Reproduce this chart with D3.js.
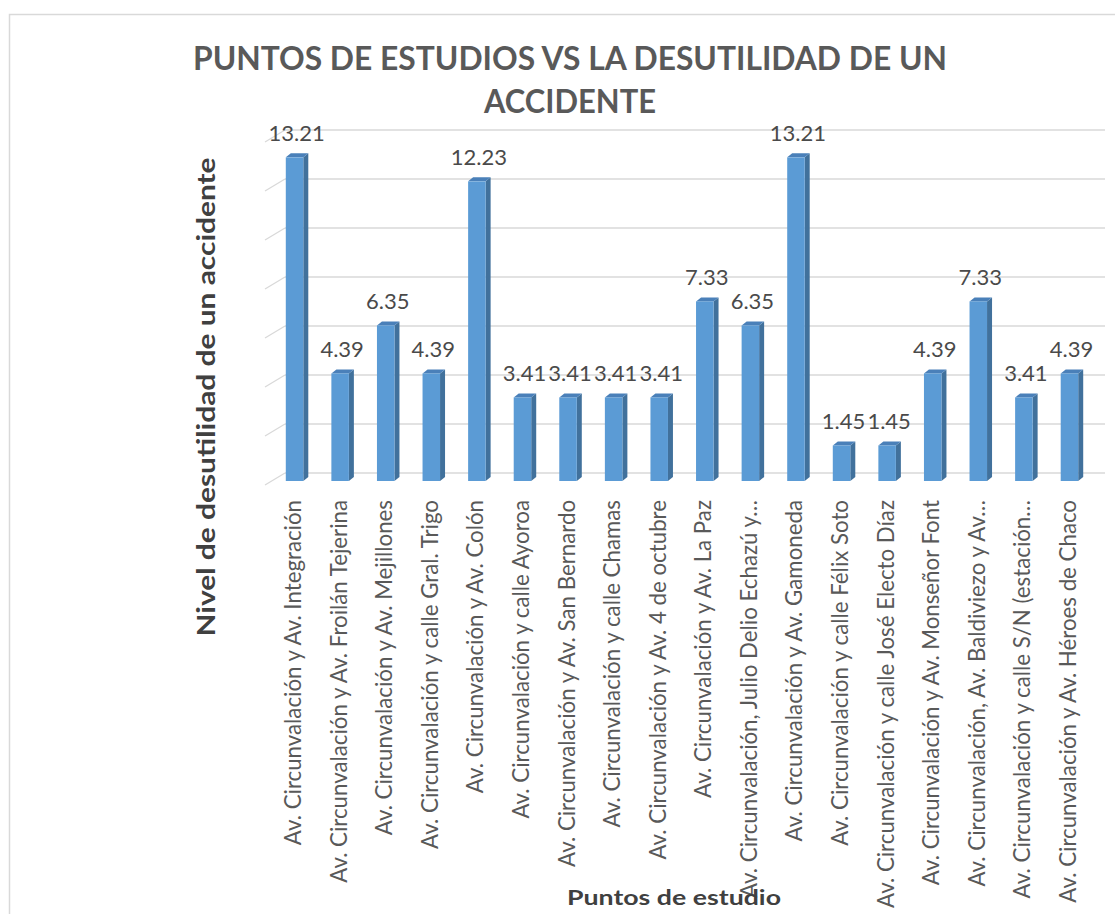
<!DOCTYPE html>
<html>
<head>
<meta charset="utf-8">
<script src="https://cdn.jsdelivr.net/npm/d3@7"></script>
<style>
  html, body { margin: 0; padding: 0; background: #ffffff; }
  svg { display: block; }
  .values text { font-variant-numeric: tabular-nums; font-feature-settings: "tnum" 1; }
</style>
</head>
<body>
<svg id="chart" width="1115" height="914"></svg>
<script>
// Study points (intersections) and the disutility level of an accident at each one
const categories = [
  "Av. Circunvalación y Av. Integración",
  "Av. Circunvalación y Av. Froilán Tejerina",
  "Av. Circunvalación y Av. Mejillones",
  "Av. Circunvalación y calle Gral. Trigo",
  "Av. Circunvalación y Av. Colón",
  "Av. Circunvalación y calle Ayoroa",
  "Av. Circunvalación y Av. San Bernardo",
  "Av. Circunvalación y calle Chamas",
  "Av. Circunvalación y Av. 4 de octubre",
  "Av. Circunvalación y Av. La Paz",
  "Av. Circunvalación, Julio Delio Echazú y…",
  "Av. Circunvalación y Av. Gamoneda",
  "Av. Circunvalación y calle Félix Soto",
  "Av. Circunvalación y calle José Electo Díaz",
  "Av. Circunvalación y Av. Monseñor Font",
  "Av. Circunvalación, Av. Baldiviezo y Av…",
  "Av. Circunvalación y calle S/N (estación…",
  "Av. Circunvalación y Av. Héroes de Chaco"
];
const values = [13.21, 4.39, 6.35, 4.39, 12.23, 3.41, 3.41, 3.41, 3.41, 7.33, 6.35, 13.21, 1.45, 1.45, 4.39, 7.33, 3.41, 4.39];
const gridTicks = [0, 2, 4, 6, 8, 10, 12, 14];

const titleLines = ["PUNTOS DE ESTUDIOS VS LA DESUTILIDAD DE UN", "ACCIDENTE"];
const yTitle = "Nivel de desutilidad de un accidente";
const xTitle = "Puntos de estudio";

const svg = d3.select("#chart");
const FONT = "Lato, 'Open Sans', sans-serif";

// chart area frame
svg.append("rect")
  .attr("x", 9.5).attr("y", 14.5)
  .attr("width", 1130).attr("height", 930)
  .attr("fill", "#ffffff")
  .attr("stroke", "#d9d9d9").attr("stroke-width", 1.5);

// scales
const x = d3.scaleBand()
  .domain(categories)
  .range([263, 1101])
  .paddingInner(0.616)
  .paddingOuter(0.5);

const y = d3.scaleLinear().domain([0, 14]).range([481, 138]);

// 3D depth of the walls and of each bar
const wallDx = 20, wallFront = 4, wallBack = -8;
const barDx = 5, barDy = -4;
const wallLeft = 265, wallRight = 1105;

// back wall gridlines + left wall diagonals
const grid = svg.append("g").attr("class", "grid");
grid.selectAll("line.back")
  .data(gridTicks)
  .join("line")
  .attr("class", "back")
  .attr("x1", wallLeft + wallDx).attr("x2", wallRight)
  .attr("y1", d => y(d) + wallBack).attr("y2", d => y(d) + wallBack)
  .attr("stroke", "#d9d9d9").attr("stroke-width", 1.3);
grid.selectAll("line.side")
  .data(gridTicks)
  .join("line")
  .attr("class", "side")
  .attr("x1", wallLeft).attr("x2", wallLeft + wallDx)
  .attr("y1", d => y(d) + wallFront).attr("y2", d => y(d) + wallBack)
  .attr("stroke", "#d9d9d9").attr("stroke-width", 1.3);

// bars: front face, right side, top cap
const bars = svg.append("g").attr("class", "bars")
  .selectAll("g")
  .data(values.map((v, i) => ({ cat: categories[i], v })))
  .join("g");

bars.append("path")
  .attr("fill", "#41719c")
  .attr("d", d => {
    const x1 = x(d.cat) + x.bandwidth(), t = y(d.v), b = y(0);
    return `M${x1},${t} L${x1 + barDx},${t + barDy} L${x1 + barDx},${b + barDy} L${x1},${b} Z`;
  });
bars.append("path")
  .attr("fill", "#4a80b9")
  .attr("d", d => {
    const x0 = x(d.cat), x1 = x0 + x.bandwidth(), t = y(d.v);
    return `M${x0},${t} L${x0 + barDx},${t + barDy} L${x1 + barDx},${t + barDy} L${x1},${t} Z`;
  });
bars.append("rect")
  .attr("fill", "#5b9bd5")
  .attr("x", d => x(d.cat))
  .attr("y", d => y(d.v))
  .attr("width", x.bandwidth())
  .attr("height", d => y(0) - y(d.v));

// value labels
svg.append("g").attr("class", "values")
  .selectAll("text")
  .data(values.map((v, i) => ({ cat: categories[i], v })))
  .join("text")
  .attr("x", d => x(d.cat) + x.bandwidth() / 2 + 2)
  .attr("y", d => y(d.v) - 16)
  .attr("text-anchor", "middle")
  .attr("font-family", FONT)
  .attr("font-size", 22)
  .attr("fill", "#4a4a4a")
  .text(d => d.v.toFixed(2));

// category labels, rotated
const catSize = (() => {
  const probe = svg.append("text").attr("font-family", FONT).attr("font-size", 20)
    .text(categories[1]);
  const w = probe.node().getComputedTextLength();
  probe.remove();
  return 20 * 383 / w;
})();

svg.append("g").attr("class", "cats")
  .selectAll("text")
  .data(categories)
  .join("text")
  .attr("transform", d => `translate(${x(d) + x.bandwidth() / 2 - 2},500) rotate(-90)`)
  .attr("text-anchor", "end")
  .attr("dominant-baseline", "central")
  .attr("font-family", FONT)
  .attr("font-size", catSize)
  .attr("fill", "#595959")
  .text(d => d);

// title
svg.append("g").attr("class", "title")
  .selectAll("text")
  .data(titleLines)
  .join("text")
  .attr("x", 570)
  .attr("y", (d, i) => 70 + i * 43)
  .attr("text-anchor", "middle")
  .attr("font-family", FONT)
  .attr("font-weight", "bold")
  .attr("font-size", 32)
  .attr("fill", "#595959")
  .attr("textLength", (d, i) => i === 0 ? 754 : 172)
  .attr("lengthAdjust", "spacingAndGlyphs")
  .text(d => d);

// axis titles
svg.append("text")
  .attr("transform", "translate(215,397) rotate(-90)")
  .attr("text-anchor", "middle")
  .attr("font-family", FONT)
  .attr("font-weight", "bold")
  .attr("font-size", 24)
  .attr("fill", "#404040")
  .attr("textLength", 479)
  .attr("lengthAdjust", "spacingAndGlyphs")
  .text(yTitle);

svg.append("text")
  .attr("x", 674)
  .attr("y", 905)
  .attr("text-anchor", "middle")
  .attr("font-family", FONT)
  .attr("font-weight", "bold")
  .attr("font-size", 20)
  .attr("fill", "#404040")
  .attr("textLength", 214)
  .attr("lengthAdjust", "spacingAndGlyphs")
  .text(xTitle);
</script>
</body>
</html>
